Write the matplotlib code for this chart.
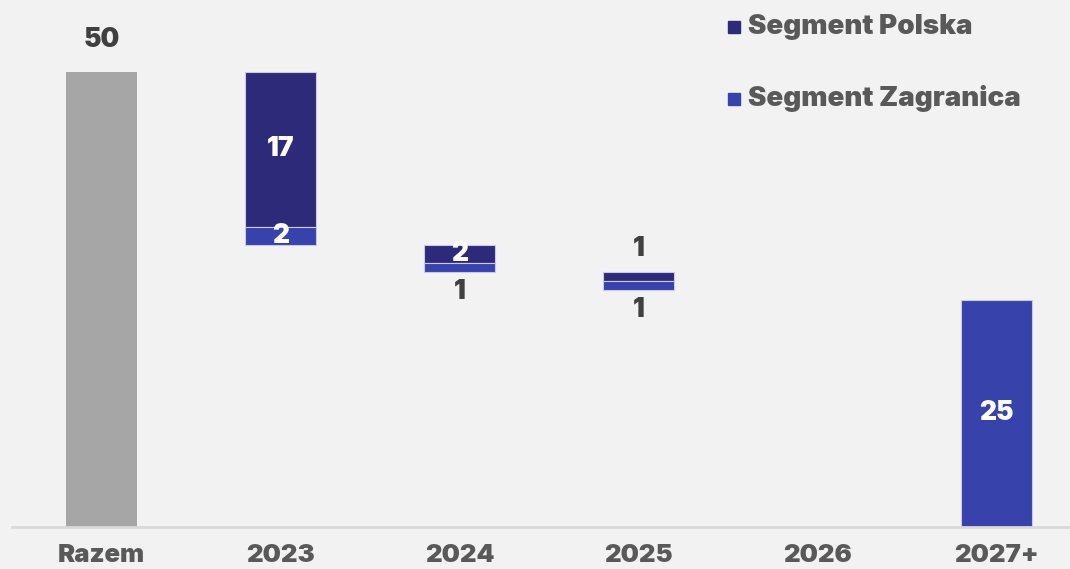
import matplotlib.pyplot as plt
import numpy as np

plt.rcParams['font.family'] = ['Inter', 'DejaVu Sans']

categories = ["Razem", "2023", "2024", "2025", "2026", "2027+"]
total = 50
polska = [0, 17, 2, 1, 0, 0]
zagranica = [0, 2, 1, 1, 0, 25]

c_pol = "#2e2a7a"
c_zag = "#3742ab"
c_tot = "#a6a6a6"
c_txt = "#404040"
c_lab = "#595959"
bg = "#f2f2f2"

fig = plt.figure(figsize=(10.70, 5.69), dpi=100, facecolor=bg)
ax = fig.add_axes([12 / 1070, 1 - 527.3 / 569, 1 - 12 / 1070, (527.3 - 26.2) / 569])
ax.set_facecolor(bg)

x = np.arange(len(categories))
w = 0.40
edge = dict(edgecolor="#c8cae8", linewidth=0.8)

# total bar
ax.bar(x[0], total, w, color=c_tot)
ax.text(x[0], total + 3.5, f"{total}", ha="center", va="center",
        fontsize=19, fontweight="black", color=c_txt)

def seg_label(xi, bottom, val, inside_color, where):
    if val >= 2:
        ax.text(xi, bottom + val / 2, f"{val}", ha="center", va="center",
                fontsize=19, fontweight="black", color=inside_color)
    elif where == "above":
        ax.text(xi, bottom + val + 2.5, f"{val}", ha="center", va="center",
                fontsize=19, fontweight="black", color=c_txt)
    else:
        ax.text(xi, bottom - 2.2, f"{val}", ha="center", va="center",
                fontsize=19, fontweight="black", color=c_txt)

# floating steps down from the total
level = total
for i in range(1, len(categories) - 1):
    p, z = polska[i], zagranica[i]
    if p + z == 0:
        continue
    ax.bar(x[i], p, w, bottom=level - p, color=c_pol, **edge)
    ax.bar(x[i], z, w, bottom=level - p - z, color=c_zag, **edge)
    seg_label(x[i], level - p, p, "white", "above")
    seg_label(x[i], level - p - z, z, "white", "below")
    level -= p + z

# remaining amount, from the baseline
last = len(categories) - 1
ax.bar(x[last], zagranica[last], w, color=c_zag, **edge)
seg_label(x[last], 0, zagranica[last], "white", "below")

ax.set_xlim(-0.5, 5.41)
ax.set_ylim(0, 55)
ax.set_yticks([])
ax.set_xticks(x)
ax.set_xticklabels(categories, fontsize=18.5, fontweight="black", color=c_lab)
ax.tick_params(axis="x", length=0, pad=12)
for s in ["top", "right", "left"]:
    ax.spines[s].set_visible(False)
ax.spines["bottom"].set_color("#d9d9d9")
ax.spines["bottom"].set_linewidth(2)

# legend drawn as markers + text in figure coords
leg = [("Segment Polska", c_pol, 27), ("Segment Zagranica", c_zag, 99)]
for name, col, ypx in leg:
    fig.patches.append(plt.Rectangle((728 / 1070, 1 - (ypx + 6) / 569), 12 / 1070, 12 / 569,
                                     transform=fig.transFigure, color=col))
    fig.text(748 / 1070, 1 - ypx / 569, name, ha="left", va="center",
             fontsize=20, fontweight="black", color=c_lab)

fig.savefig("out.png", dpi=100, facecolor=bg)
